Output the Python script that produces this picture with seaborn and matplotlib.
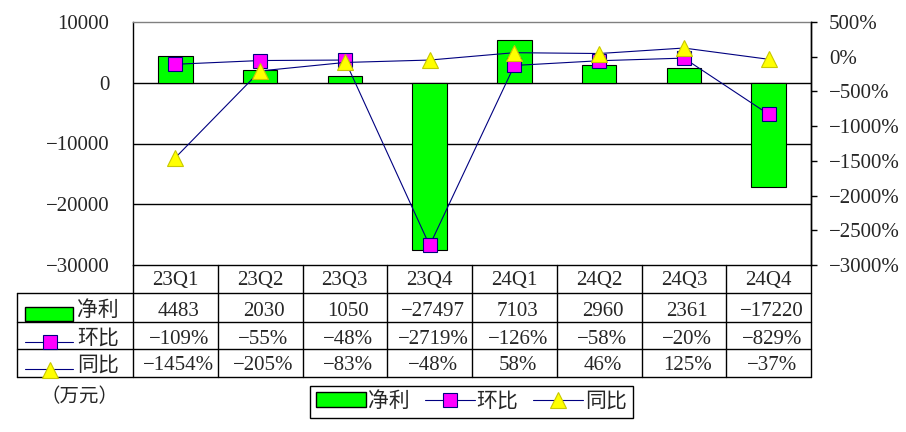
import numpy as np
import matplotlib
matplotlib.use('Agg')
import matplotlib.pyplot as plt
import matplotlib.transforms as mtransforms
import seaborn as sns
from matplotlib.patches import Rectangle, Patch
from matplotlib.lines import Line2D
from matplotlib.ticker import FuncFormatter

categories = ['23Q1', '23Q2', '23Q3', '23Q4', '24Q1', '24Q2', '24Q3', '24Q4']
net_profit = [4483, 2030, 1050, -27497, 7103, 2960, 2361, -17220]
qoq_pct = [-109, -55, -48, -2719, -126, -58, -20, -829]
yoy_pct = [-1454, -205, -83, -48, 58, 46, 125, -37]
left_ticks = [10000, 0, -10000, -20000, -30000]
right_ticks = [500, 0, -500, -1000, -1500, -2000, -2500, -3000]
series_names = ['净利', '环比', '同比']
unit_label = '（万元）'

sns.set_style('white')
plt.rcParams['font.family'] = ['Liberation Serif', 'Noto Sans CJK SC', 'DejaVu Sans']
plt.rcParams['axes.unicode_minus'] = True

GREEN = '#00FF00'
MAGENTA = '#FF00FF'
YELLOW = '#FFFF00'
NAVY = '#000080'
TRI_EDGE = '#C8C800'
FS = 15

W, H = 906, 432
fig = plt.figure(figsize=(W / 100, H / 100), dpi=100)
fig.patch.set_facecolor('white')
L, R, T, B = 133, 811, 22, 265
ax = fig.add_axes([L / W, 1 - B / H, (R - L) / W, (B - T) / H])

sns.barplot(x=categories, y=net_profit, ax=ax, color=GREEN, saturation=1,
            edgecolor='black', linewidth=0.8, width=0.41, zorder=2)
ax.set_xlim(-0.5, 7.5)
ax.set_ylim(-30000, 10000)
ax.set_xlabel('')
ax.set_ylabel('')
ax.set_yticks(left_ticks)
ax.yaxis.set_major_formatter(FuncFormatter(lambda v, p: f"{int(v)}".replace('-', '\u2212')))
ax.tick_params(axis='y', length=0, pad=17, labelsize=FS)
ax.tick_params(axis='x', length=0, labelbottom=False)
for yv in [0, -10000, -20000]:
    ax.axhline(yv, color='black', lw=1, zorder=1)
for s in ['left', 'right', 'bottom']:
    ax.spines[s].set_color('black')
    ax.spines[s].set_linewidth(1)
ax.spines['top'].set_color('#808080')
ax.spines['top'].set_linewidth(1)

ax2 = ax.twinx()
ax2.set_ylim(-3000, 500)
ax2.set_xlim(-0.5, 7.5)
ax2.set_yticks(right_ticks)
ax2.yaxis.set_major_formatter(FuncFormatter(lambda v, p: f"{int(v)}%".replace('-', '\u2212')))
ax2.tick_params(axis='y', length=4, width=1, direction='out', pad=9, labelsize=FS, color='black')
for s in ['top', 'left', 'bottom']:
    ax2.spines[s].set_visible(False)
ax2.spines['right'].set_color('black')
ax2.spines['right'].set_linewidth(1)

xpos = np.arange(len(categories))
sns.lineplot(x=xpos, y=qoq_pct, ax=ax2, color=NAVY, lw=0.8, marker='s', markersize=10,
             markerfacecolor=MAGENTA, markeredgecolor=NAVY, markeredgewidth=0.8)
sns.lineplot(x=xpos, y=yoy_pct, ax=ax2, color=NAVY, lw=0.8, marker='^', markersize=11,
             markerfacecolor=YELLOW, markeredgecolor=TRI_EDGE, markeredgewidth=0.8)
ax2.set_ylabel('')

# pixel transform (top-left origin)
pix = mtransforms.Affine2D().scale(1 / W, -1 / H).translate(0, 1) + fig.transFigure
colx = mtransforms.blended_transform_factory(ax.transData, pix)

# data table grid
rows_y = [293, 322, 349, 377]
xl = 17
for yv in rows_y:
    fig.add_artist(Line2D([xl, R], [yv, yv], color='black', lw=1, transform=pix))
fig.add_artist(Line2D([xl, xl], [293, 377], color='black', lw=1, transform=pix))
for i in range(len(categories) + 1):
    ax.plot([i - 0.5, i - 0.5], [B, 377], color='black', lw=1, transform=colx, clip_on=False)

# header labels
for i, c in enumerate(categories):
    ax.text(i, 280, c, ha='center', va='center', fontsize=FS, transform=colx)

fmt = lambda v, pct: (f"{v}%" if pct else f"{v}").replace('-', '\u2212')
row_centers = [311, 339, 366]
for i in range(len(categories)):
    ax.text(i + 0.04, row_centers[0], fmt(net_profit[i], False), ha='center', va='center', fontsize=FS, transform=colx)
    ax.text(i + 0.04, row_centers[1], fmt(qoq_pct[i], True), ha='center', va='center', fontsize=FS, transform=colx)
    ax.text(i + 0.04, row_centers[2], fmt(yoy_pct[i], True), ha='center', va='center', fontsize=FS, transform=colx)

# row labels with legend keys
for name, yc in zip(series_names, row_centers):
    fig.text(77 / W, 1 - yc / H, name, ha='left', va='center', fontsize=FS)
fig.add_artist(Rectangle((25, 307), 48, 14, facecolor=GREEN, edgecolor='black', lw=1, transform=pix))
fig.add_artist(Line2D([25, 73], [342, 342], color=NAVY, lw=0.8, transform=pix))
fig.add_artist(Line2D([50], [342], marker='s', markersize=10, markerfacecolor=MAGENTA,
                      markeredgecolor=NAVY, markeredgewidth=0.8, transform=pix))
fig.add_artist(Line2D([25, 73], [369, 369], color=NAVY, lw=0.8, transform=pix))
fig.add_artist(Line2D([50], [370], marker='^', markersize=11, markerfacecolor=YELLOW,
                      markeredgecolor=TRI_EDGE, markeredgewidth=0.8, transform=pix))

fig.text(80 / W, 1 - 397 / H, unit_label, ha='center', va='center', fontsize=FS - 1)

handles = [Patch(facecolor=GREEN, edgecolor='black', lw=1),
           Line2D([], [], color=NAVY, lw=0.8, marker='s', markersize=10,
                  markerfacecolor=MAGENTA, markeredgecolor=NAVY, markeredgewidth=0.8),
           Line2D([], [], color=NAVY, lw=0.8, marker='^', markersize=11,
                  markerfacecolor=YELLOW, markeredgecolor=TRI_EDGE, markeredgewidth=0.8)]
leg = fig.legend(handles=handles, labels=series_names, loc='center',
                 bbox_to_anchor=(471.5 / W, 1 - 402 / H), ncol=3, frameon=True,
                 fancybox=False, edgecolor='black', framealpha=1, handlelength=2.4,
                 handleheight=0.75, handletextpad=0.1, columnspacing=0.7,
                 borderpad=0.3, borderaxespad=0, fontsize=FS, numpoints=1)
leg.get_frame().set_linewidth(1)

fig.savefig('out.png', dpi=100, facecolor='white')
